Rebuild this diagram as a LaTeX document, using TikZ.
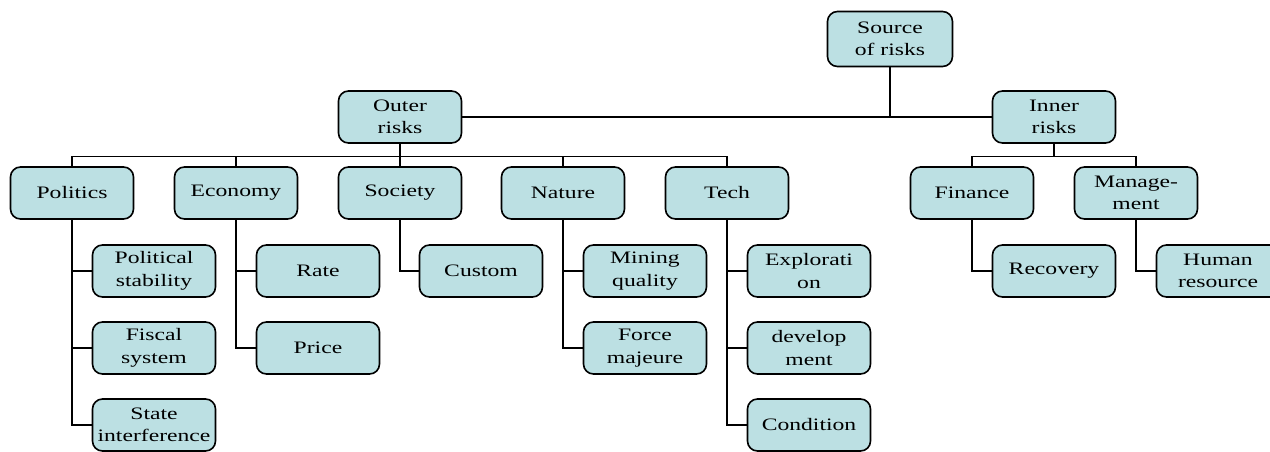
\documentclass[tikz,border=0pt]{standalone}
\usepackage{fontspec}
\setmainfont{Liberation Serif}[FakeStretch=1.35]
\usetikzlibrary{positioning, calc}
\definecolor{boxblue}{RGB}{188,224,227}
\tikzset{
	riskbox/.style={draw, fill=boxblue, rounded corners=10pt, line width=1.6pt,
		minimum width=123pt, minimum height=52pt, inner sep=1pt, align=center,
		font=\fontsize{17.5}{22.5}\selectfont},
	link/.style={line width=1.6pt},
	branch/.style={to path={(\tikztostart) -- ++(0,-12.5pt) -| (\tikztotarget)}}
}
\begin{document}
\begin{tikzpicture}[x=1pt, y=-1pt]
		% fix the frame
		\useasboundingbox (0,0) rectangle (1270,451);
		
		% root and first level
		\node[riskbox, minimum width=125pt, minimum height=55pt] (src) at (890,39) {Source\\of risks};
		\node[riskbox] (outer) at (400,117) {Outer\\risks};
		\node[riskbox] (inner) at (1054,117) {Inner\\risks};
		
		% outer risks
		\node[riskbox] (pol) at (72,193) {Politics};
		\node[riskbox] (eco) at (236,193) {Economy};
		\node[riskbox] (soc) at (400,193) {Society};
		\node[riskbox] (nat) at (563,193) {Nature};
		\node[riskbox] (tech) at (727,193) {Tech};
		
		% inner risks
		\node[riskbox] (fin) at (972,193) {Finance};
		\node[riskbox] (man) at (1136,193) {Manage-\\ment};
		
		% politics
		\node[riskbox] (pol1) at (154,271) {Political\\stability};
		\node[riskbox] (pol2) at (154,348) {Fiscal\\system};
		\node[riskbox] (pol3) at (154,425) {State\\interference};
		
		% economy
		\node[riskbox] (eco1) at (318,271) {Rate};
		\node[riskbox] (eco2) at (318,348) {Price};
		
		% society
		\node[riskbox] (soc1) at (481,271) {Custom};
		
		% nature
		\node[riskbox] (nat1) at (645,271) {Mining\\quality};
		\node[riskbox] (nat2) at (645,348) {Force\\majeure};
		
		% tech
		\node[riskbox] (tech1) at (809,271) {Explorati\\on};
		\node[riskbox] (tech2) at (809,348) {develop\\ment};
		\node[riskbox] (tech3) at (809,425) {Condition};
		
		% finance and management
		\node[riskbox] (fin1) at (1054,271) {Recovery};
		\node[riskbox] (man1) at (1218,271) {Human\\resource};
		
		% top connectors
		\draw[link] (outer) -- (inner);
		\draw[link] (src) -- (src |- outer);
		
		% second level connectors
		\draw[link] (outer.south) edge[branch] (pol.north) edge[branch] (eco.north)
			edge[branch] (soc.north) edge[branch] (nat.north) edge[branch] (tech.north);
		\draw[link] (inner.south) edge[branch] (fin.north) edge[branch] (man.north);
		
		% third level connectors
		\draw[link] (pol.south) |- (pol1.west) (pol.south) |- (pol2.west) (pol.south) |- (pol3.west);
		\draw[link] (eco.south) |- (eco1.west) (eco.south) |- (eco2.west);
		\draw[link] (soc.south) |- (soc1.west);
		\draw[link] (nat.south) |- (nat1.west) (nat.south) |- (nat2.west);
		\draw[link] (tech.south) |- (tech1.west) (tech.south) |- (tech2.west) (tech.south) |- (tech3.west);
		\draw[link] (fin.south) |- (fin1.west);
		\draw[link] (man.south) |- (man1.west);
		
	\end{tikzpicture}
\end{document}
